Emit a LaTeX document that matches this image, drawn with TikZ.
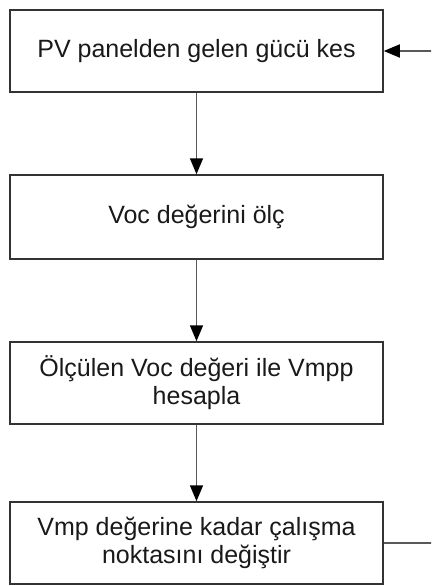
\documentclass[tikz,border=0pt]{standalone}
\usepackage{fontspec}
\setmainfont{Liberation Sans}
\usetikzlibrary{arrows.meta}
\begin{document}
\begin{tikzpicture}[x=1pt,y=-1pt,
  stepbox/.style={draw=black!80, line width=1.5pt, minimum width=373pt, inner sep=0pt,
    font=\fontsize{25}{28}\selectfont, align=center, text=black!90},
  flow/.style={draw=black!65, line width=1.6pt, -{Triangle[length=16pt,width=13pt,fill=black,color=black]}}]
\useasboundingbox (0,0) rectangle (431,586);
\clip (0,0) rectangle (431,586);
% process steps
\node[stepbox, minimum height=82pt] (s1) at (196.5,51) {PV panelden gelen gücü kes};
\node[stepbox, minimum height=84pt] (s2) at (196.5,217) {Voc değerini ölç};
\node[stepbox, minimum height=82pt] (s3) at (196.5,383) {Ölçülen Voc değeri ile Vmpp\\hesapla};
\node[stepbox, minimum height=82pt] (s4) at (196.5,543) {Vmp değerine kadar çalışma\\noktasını değiştir};
% flow between steps
\draw[flow] (s1) -- (s2);
\draw[flow] (s2) -- (s3);
\draw[flow] (s3) -- (s4);
% loop back to the first step
\coordinate (back1) at (434,543);
\coordinate (back2) at (434,51);
\draw[flow] (s4.east) -- (back1) -- (back2) -- (s1.east);
\end{tikzpicture}
\end{document}
